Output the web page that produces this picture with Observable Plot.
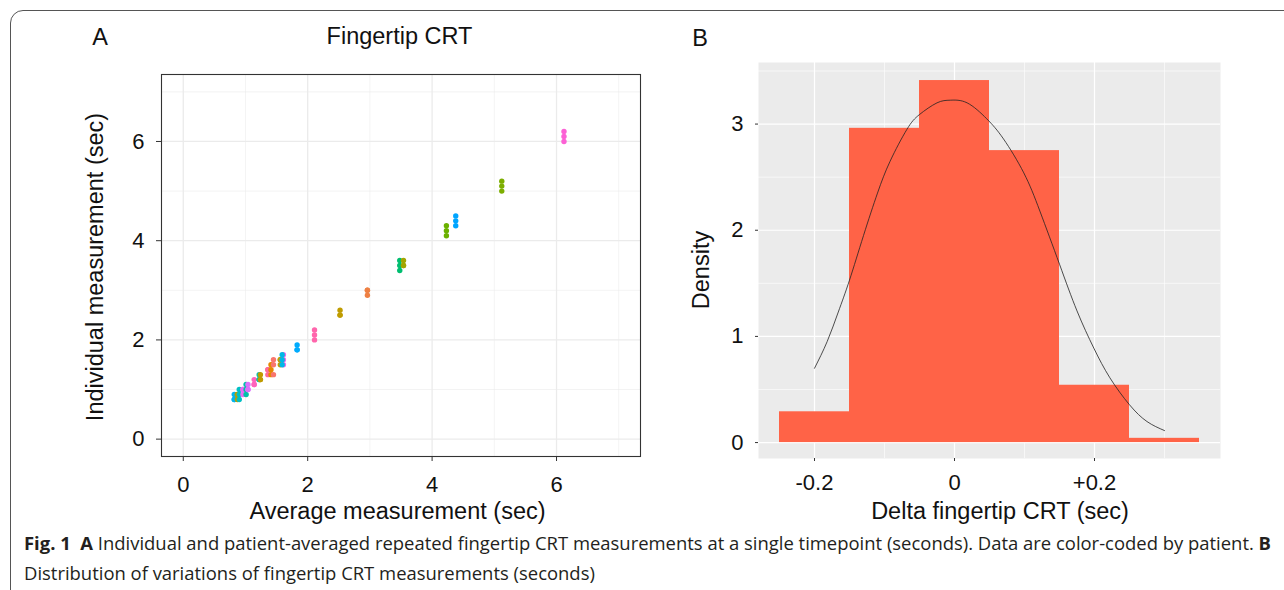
<!DOCTYPE html>
<html><head><meta charset="utf-8">
<script src="https://cdn.jsdelivr.net/npm/d3@7"></script>
<script src="https://cdn.jsdelivr.net/npm/@observablehq/plot@0.6"></script>
<style>
html,body{margin:0;padding:0;background:#fff;}
#root{position:relative;width:1284px;height:590px;overflow:hidden;font-family:"Liberation Sans",Arial,sans-serif;color:#111;}
.lbl{position:absolute;font-size:23.5px;line-height:1;white-space:nowrap;transform:translate(-50%,-50%);}
.rot{transform:translate(-50%,-50%) rotate(-90deg);}
#border{position:absolute;left:10px;top:10px;width:1400px;height:700px;border:1px solid #555;border-top-left-radius:13px;box-sizing:border-box;}
.cap{position:absolute;left:24px;font-family:"Open Sans","Noto Sans",sans-serif;font-size:18px;line-height:1;white-space:nowrap;transform-origin:0 50%;color:#231f20;}
.plot{position:absolute;top:0;}
.plot svg text{font-family:"Liberation Sans",Arial,sans-serif !important;font-size:22px !important;fill:#111;}
</style></head>
<body><div id="root">
<div id="border"></div>
<div id="plotA" class="plot" style="left:0"></div>
<div id="plotB" class="plot" style="left:660px"></div>
<div class="lbl" style="left:100px;top:38px">A</div>
<div class="lbl" style="left:399.5px;top:37px">Fingertip CRT</div>
<div class="lbl" style="left:700px;top:39px">B</div>
<div class="lbl rot" style="left:96px;top:267px">Individual measurement (sec)</div>
<div class="lbl" style="left:397.5px;top:512px">Average measurement (sec)</div>
<div class="lbl rot" style="left:702px;top:270px">Density</div>
<div class="lbl" style="left:1000px;top:512px">Delta fingertip CRT (sec)</div>
<div id="cap1" class="cap" style="top:534px"><b>Fig. 1</b>&nbsp; <b>A</b> Individual and patient-averaged repeated fingertip CRT measurements at a single timepoint (seconds). Data are color-coded by patient. <b>B</b></div>
<div id="cap2" class="cap" style="top:564px">Distribution of variations of fingertip CRT measurements (seconds)</div>
</div>
<script>
// ---- Panel A data: patient averages, individual measurements, colours ----
const patientAvg = [0.82, 0.87, 0.90, 0.96, 1.01, 1.04, 1.14, 1.22, 1.24, 1.36, 1.41, 1.45, 1.56, 1.61, 1.59,
                    1.83, 2.11, 2.52, 2.96, 3.48, 3.54, 4.23, 4.38, 5.12, 6.12];
const patientValues = [
  [0.8,0.9,0.8],[0.8,0.9,0.9],[0.8,0.9,1.0],[0.9,1.0,1.0],[0.9,1.0,1.1],[1.0,1.0,1.1],
  [1.1,1.2,1.1],[1.2,1.2,1.3],[1.2,1.3,1.2],[1.3,1.4,1.4],[1.3,1.4,1.5],[1.3,1.5,1.6],
  [1.5,1.6,1.6],[1.5,1.6,1.7],[1.7,1.6,1.5],
  [1.8,1.9,1.8],[2.0,2.1,2.2],[2.5,2.6,2.5],[2.9,3.0,3.0],[3.4,3.5,3.6],[3.5,3.6,3.5],
  [4.1,4.2,4.3],[4.3,4.4,4.5],[5.0,5.1,5.2],[6.0,6.1,6.2]
];
const patientColors = ["#00B4EF","#B79F00","#00BFC4","#E76BF3","#00C1A9","#DC71FA","#FF62BC","#00C0B0","#C09B00",
  "#FF6A98","#E58700","#F8766D","#C49A00","#F066EA","#00B8E5",
  "#00ABFD","#FF65AC","#BF9C00","#EE8043","#00BE70","#A3A500","#6BB100","#00A5FF","#7CAE00","#FC61D5"];
const xMajorA = [0, 2, 4, 6], xMinorA = [1, 3, 5, 7];
const yMajorA = [0, 2, 4, 6], yMinorA = [1, 3, 5, 7];

const binStart = [-0.25, -0.15, -0.05, 0.05, 0.15, 0.25];
const binEnd   = [-0.15, -0.05, 0.05, 0.15, 0.25, 0.35];
const binDensity = [0.29, 2.96, 3.41, 2.75, 0.54, 0.04];
const curveX = [-0.2, -0.182, -0.166, -0.15, -0.13, -0.11, -0.092, -0.068, -0.05, -0.025, -0.006, 0.018, 0.046, 0.07, 0.099, 0.122, 0.15, 0.175, 0.199, 0.222, 0.25, 0.275, 0.3];
const curveY = [0.70, 0.95, 1.23, 1.53, 1.95, 2.35, 2.65, 2.95, 3.09, 3.20, 3.225, 3.20, 3.05, 2.86, 2.54, 2.18, 1.68, 1.24, 0.89, 0.61, 0.356, 0.198, 0.113];
const xMajorB = [-0.2, 0, 0.2], xMinorB = [-0.1, 0.1, 0.3];
const yMajorB = [0, 1, 2, 3], yMinorB = [0.5, 1.5, 2.5, 3.5];

const ptsA = [];
patientValues.forEach((vals, i) => vals.forEach(v => ptsA.push({avg: patientAvg[i], value: v, color: patientColors[i]})));
const bins = binStart.map((s, i) => ({x1: s, x2: binEnd[i], density: binDensity[i]}));
const curve = curveX.map((x, i) => ({x, y: curveY[i]}));

const font = '"Liberation Sans", Arial, sans-serif';
const plotA = Plot.plot({
  width: 660, height: 530,
  marginLeft: 161, marginRight: 20, marginTop: 74, marginBottom: 74,
  x: {domain: [-0.35, 7.35]},
  y: {domain: [-0.35, 7.35]},
  color: {type: "identity"},
  style: {fontFamily: font, fontSize: "22px", color: "#111", background: "transparent", overflow: "visible"},
  marks: [
    Plot.ruleX(xMinorA, {stroke: "#EBEBEB", strokeWidth: 0.6}),
    Plot.ruleY(yMinorA, {stroke: "#EBEBEB", strokeWidth: 0.6}),
    Plot.ruleX(xMajorA, {stroke: "#EBEBEB", strokeWidth: 1.3}),
    Plot.ruleY(yMajorA, {stroke: "#EBEBEB", strokeWidth: 1.3}),
    Plot.dot(ptsA, {x: "avg", y: "value", fill: "color", r: 2.7}),
    Plot.frame({stroke: "#333", strokeWidth: 1.1}),
    Plot.axisX(xMajorA, {tickSize: 5, tickPadding: 15, stroke: "#333", fontSize: 22, fontFamily: font, label: null, tickFormat: d => String(d)}),
    Plot.axisY(yMajorA, {tickSize: 5, tickPadding: 12, stroke: "#333", fontSize: 22, fontFamily: font, label: null, tickFormat: d => String(d)})
  ]
});
document.getElementById("plotA").appendChild(plotA);

const plotB = Plot.plot({
  width: 624, height: 530,
  marginLeft: 98, marginRight: 64, marginTop: 62, marginBottom: 72,
  x: {domain: [-0.28, 0.38]},
  y: {domain: [-0.15, 3.58]},
  style: {fontFamily: font, fontSize: "22px", color: "#111", background: "transparent", overflow: "visible"},
  marks: [
    Plot.frame({fill: "#EBEBEB", stroke: null}),
    Plot.ruleX(xMinorB, {stroke: "#fff", strokeWidth: 0.6}),
    Plot.ruleY(yMinorB, {stroke: "#fff", strokeWidth: 0.6}),
    Plot.ruleX(xMajorB, {stroke: "#fff", strokeWidth: 1.2}),
    Plot.ruleY(yMajorB, {stroke: "#fff", strokeWidth: 1.2}),
    Plot.rect(bins, {x1: "x1", x2: "x2", y1: () => 0, y2: "density", fill: "#FF6347"}),
    Plot.line(curve, {x: "x", y: "y", curve: "natural", stroke: "#222", strokeWidth: 0.8}),
    Plot.axisX(xMajorB, {tickSize: 3, tickPadding: 13, stroke: "#333", fontSize: 22, fontFamily: font, label: null,
      tickFormat: d => d > 0 ? "+" + d : String(d)}),
    Plot.axisY(yMajorB, {tickSize: 3, tickPadding: 12, stroke: "#333", fontSize: 22, fontFamily: font, label: null, tickFormat: d => String(d)})
  ]
});
document.getElementById("plotB").appendChild(plotB);

function fitCaption() {
  const c1 = document.getElementById("cap1"), c2 = document.getElementById("cap2");
  c1.style.transform = ""; c2.style.transform = "";
  const w = c1.getBoundingClientRect().width;
  const s = 1247 / w;
  c1.style.transform = `scaleX(${s})`;
  c2.style.transform = `scaleX(${s})`;
}
fitCaption();
if (document.fonts && document.fonts.ready) document.fonts.ready.then(fitCaption);
</script>
</body></html>
